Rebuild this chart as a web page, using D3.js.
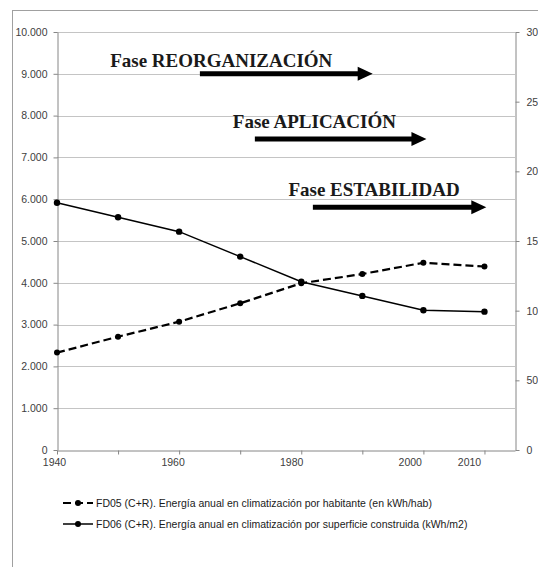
<!DOCTYPE html>
<html lang="es">
<head>
<meta charset="utf-8">
<title>Energía anual en climatización</title>
<script src="https://cdnjs.cloudflare.com/ajax/libs/d3/7.8.5/d3.min.js"></script>
<style>
  body { margin: 0; background: #fff; }
  svg text { font-family: "Liberation Sans", Arial, sans-serif; }
</style>
</head>
<body>
<div id="chart"></div>
<script>
// data
var years = [1940, 1950, 1960, 1970, 1980, 1990, 2000, 2010];
var fd05 = [2330, 2710, 3070, 3510, 3990, 4210, 4480, 4390];        // kWh/hab, left axis
var fd06 = [17.75, 16.7, 15.67, 13.88, 12.08, 11.06, 10.03, 9.93]; // kWh/m2, right axis

var leftTicks = [0, 1000, 2000, 3000, 4000, 5000, 6000, 7000, 8000, 9000, 10000];
var rightTicks = [0, 5, 10, 15, 20, 25, 30];
var rightLabels = ["0", "50", "10", "15", "20", "25", "30"];
var xLabelYears = [1940, 1960, 1980, 2000, 2010];

var seriesNames = [
  "FD05 (C+R).  Energía anual en climatización por habitante (en kWh/hab)",
  "FD06 (C+R).  Energía anual en climatización por superficie construida (kWh/m2)"
];

// phase arrows: start/end year, height on left axis, label start year
var phaseNames = ["Fase REORGANIZACIÓN", "Fase APLICACIÓN", "Fase ESTABILIDAD"];
var phaseFrom = [1963.4, 1972.4, 1981.9];
var phaseTo = [1991.7, 2000.5, 2010.3];
var phaseLevel = [9000, 7440, 5810];
var phaseTextYear = [1948.7, 1968.8, 1977.9];
var phaseTextLevel = [9160, 7700, 6080];

var W = 538, H = 567;
var pl = 57, pr = 515, pt = 32, pb = 450;

var svg = d3.select("#chart").append("svg")
  .attr("width", W)
  .attr("height", H);

// outer frame (partly off-canvas)
svg.append("rect")
  .attr("x", 12.5).attr("y", 10.5)
  .attr("width", 700).attr("height", 700)
  .attr("fill", "none")
  .attr("stroke", "#a0a0a0");

var x = d3.scaleLinear().domain([1940, 2015]).range([pl, pr]);
var xLab = d3.scaleLinear().domain([1940, 2010]).range([54, 469]);
var yL = d3.scaleLinear().domain([0, 10000]).range([pb, pt]);
var yR = d3.scaleLinear().domain([0, 30]).range([pb, pt]);

// gridlines
svg.append("g").selectAll("line")
  .data(leftTicks.filter(function (d) { return d > 0; }))
  .enter().append("line")
  .attr("x1", pl).attr("x2", pr)
  .attr("y1", function (d) { return Math.round(yL(d)) + 0.5; })
  .attr("y2", function (d) { return Math.round(yL(d)) + 0.5; })
  .attr("stroke", "#c4c4c4");

// left axis
var gl = svg.append("g")
  .attr("transform", "translate(" + pl + ".5,0)")
  .call(d3.axisLeft(yL).tickValues(leftTicks).tickSize(4).tickSizeOuter(0)
    .tickFormat(function (d) { return d3.format(",")(d).replace(",", "."); }));

// right axis
var gr = svg.append("g")
  .attr("transform", "translate(" + pr + ".5,0)")
  .call(d3.axisRight(yR).tickValues(rightTicks).tickSize(4).tickSizeOuter(0)
    .tickFormat(function (d, i) { return rightLabels[i]; }));

// bottom axis: ticks per decade
var gb = svg.append("g")
  .attr("transform", "translate(0," + pb + ".5)")
  .call(d3.axisBottom(x).tickValues(years).tickSize(4).tickSizeOuter(0).tickFormat(""));

// bottom labels
svg.append("g")
  .attr("transform", "translate(0," + (pb + 6) + ")")
  .call(d3.axisBottom(xLab).tickValues(xLabelYears).tickSize(0).tickFormat(d3.format("d")))
  .call(function (g) { g.select(".domain").remove(); });

svg.selectAll(".domain").attr("stroke", "#868686");
svg.selectAll(".tick line").attr("stroke", "#868686");
svg.selectAll(".tick text")
  .attr("fill", "#404040")
  .style("font-size", "10.5px");
gl.selectAll(".tick text").attr("x", -10);
gr.selectAll(".tick text").attr("x", 11);

// series lines
var lineL = d3.line()
  .x(function (d, i) { return x(years[i]); })
  .y(function (d) { return yL(d); });
var lineR = d3.line()
  .x(function (d, i) { return x(years[i]); })
  .y(function (d) { return yR(d); });

svg.append("path")
  .attr("d", lineL(fd05))
  .attr("fill", "none")
  .attr("stroke", "#000")
  .attr("stroke-width", 2.2)
  .attr("stroke-dasharray", "8,4");

svg.append("path")
  .attr("d", lineR(fd06))
  .attr("fill", "none")
  .attr("stroke", "#000")
  .attr("stroke-width", 1.5);

svg.append("g").selectAll("circle")
  .data(fd05)
  .enter().append("circle")
  .attr("cx", function (d, i) { return x(years[i]); })
  .attr("cy", function (d) { return yL(d); })
  .attr("r", 3)
  .attr("fill", "#000");

svg.append("g").selectAll("circle")
  .data(fd06)
  .enter().append("circle")
  .attr("cx", function (d, i) { return x(years[i]); })
  .attr("cy", function (d) { return yR(d); })
  .attr("r", 3.2)
  .attr("fill", "#000");

// phase arrows
phaseNames.forEach(function (name, i) {
  var x0 = x(phaseFrom[i]), x1 = x(phaseTo[i]), yy = yL(phaseLevel[i]);
  svg.append("line")
    .attr("x1", x0).attr("x2", x1 - 13)
    .attr("y1", yy).attr("y2", yy)
    .attr("stroke", "#000")
    .attr("stroke-width", 5);
  svg.append("path")
    .attr("d", "M" + (x1 - 15) + "," + (yy - 7) + "L" + x1 + "," + yy + "L" + (x1 - 15) + "," + (yy + 7) + "Z")
    .attr("fill", "#000");
  svg.append("text")
    .attr("x", x(phaseTextYear[i]))
    .attr("y", yL(phaseTextLevel[i]))
    .style("font-family", "'Liberation Serif', 'Times New Roman', serif")
    .style("font-weight", "bold")
    .style("font-size", "19px")
    .attr("fill", "#1a1a1a")
    .text(name);
});

// legend
var legend = svg.append("g").attr("transform", "translate(63,0)");
seriesNames.forEach(function (name, i) {
  var yy = 503 + i * 21;
  var g = legend.append("g").attr("transform", "translate(0," + yy + ")");
  g.append("line")
    .attr("x1", 0).attr("x2", 30)
    .attr("y1", 0).attr("y2", 0)
    .attr("stroke", "#000")
    .attr("stroke-width", i === 0 ? 2.2 : 1.5)
    .attr("stroke-dasharray", i === 0 ? "8,4" : null);
  g.append("circle")
    .attr("cx", 15).attr("cy", 0).attr("r", 3)
    .attr("fill", "#000");
  g.append("text")
    .attr("x", 33)
    .attr("dy", "0.35em")
    .style("font-size", "10.5px")
    .attr("fill", "#1a1a1a")
    .text(name);
});
</script>
</body>
</html>
